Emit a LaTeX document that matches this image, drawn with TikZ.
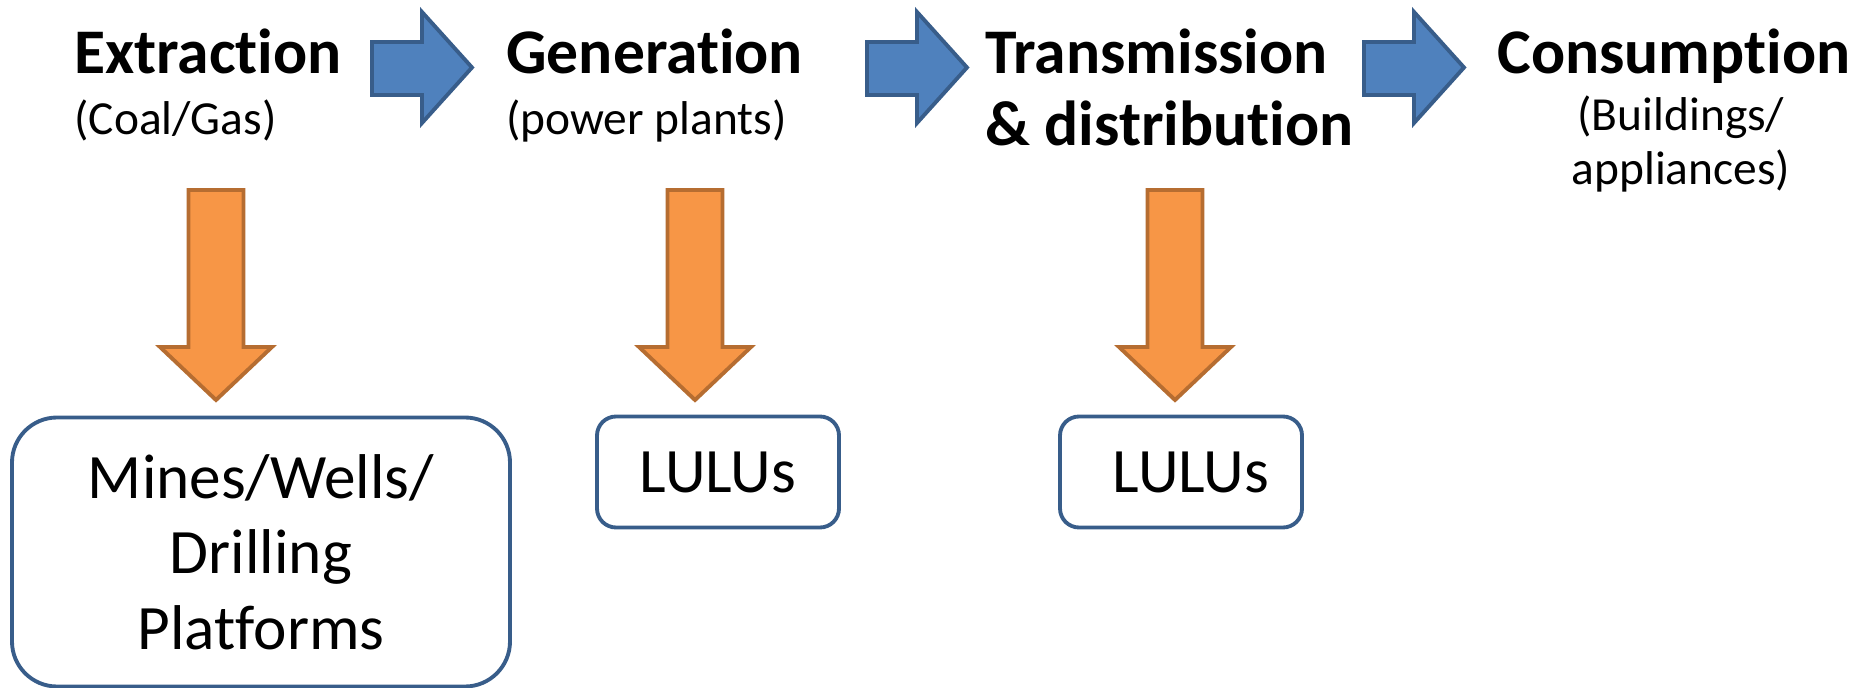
\documentclass[tikz,border=0pt]{standalone}
\usepackage{fontspec}
\setmainfont{Carlito}[Ligatures={NoCommon},RawFeature={-liga}]
\definecolor{bluefill}{HTML}{4F81BD}
\definecolor{blueline}{HTML}{385D8A}
\definecolor{orangefill}{HTML}{F79646}
\definecolor{orangeline}{HTML}{B66D31}
\def\px{0.02cm}
\tikzset{
  bluearrow/.style={fill=bluefill,draw=blueline,line width=2.2pt,line join=miter},
  orangearrow/.style={fill=orangefill,draw=orangeline,line width=2.2pt,line join=miter},
  title/.style={font=\fontsize{36.2}{42}\selectfont\bfseries,anchor=base west,inner sep=0pt},
  sub/.style={font=\fontsize{27}{32}\selectfont,anchor=base west,inner sep=0pt},
  subc/.style={font=\fontsize{27}{32}\selectfont,anchor=base,inner sep=0pt},
  sitebox/.style={draw=blueline,line width=2.2pt,align=center,inner sep=0pt,
    font=\fontsize{36}{43}\selectfont},
}
\newcommand{\rightblock}[1]{%
  \draw[bluearrow] (#1,42) -- (#1+50,42) -- (#1+50,12) -- (#1+100,67.5) -- (#1+50,123) -- (#1+50,95) -- (#1,95) -- cycle;}
\newcommand{\downblock}[1]{%
  \draw[orangearrow] (#1-27.5,190) -- (#1+27.5,190) -- (#1+27.5,347) -- (#1+56,347) -- (#1,400) -- (#1-56,347) -- (#1-27.5,347) -- cycle;}
\begin{document}
\begin{tikzpicture}[x=0.02cm,y=-0.02cm]
\useasboundingbox (0,0) rectangle (1871,688);
% stage titles
\node[title] (ext) at (74,74) {Extraction};
\node[sub] (extsub) at (74,135) {(Coal/Gas)};
\node[title] (gen) at (506,74) {Generation};
\node[sub] (gensub) at (506,135) {(power plants)};
\node[title] (tra) at (985,74) {Transmission};
\node[title] (tra2) at (985,146) {\& distribution};
\node[title] (con) at (1497,74) {Consumption};
\node[subc] (consub) at (1681,131) {(Buildings/};
\node[subc] (consub2) at (1681,185) {appliances)};
% blue block arrows
\rightblock{372}
\rightblock{867}
\rightblock{1364}
% orange block arrows
\downblock{216}
\downblock{695}
\downblock{1175}
% boxes
\node[sitebox,rounded corners=0.9cm,minimum width=498*\px,minimum height=269*\px] (mines) at (261,552) {Mines/Wells/\\Drilling\\Platforms};
\node[sitebox,rounded corners=0.38cm,minimum width=242*\px,minimum height=111*\px] (lulu1) at (718,472) {LULUs};
\node[sitebox,rounded corners=0.38cm,minimum width=242*\px,minimum height=111*\px] (lulu2) at (1181,472) {\hspace*{0.4cm}LULUs};
\end{tikzpicture}
\end{document}
